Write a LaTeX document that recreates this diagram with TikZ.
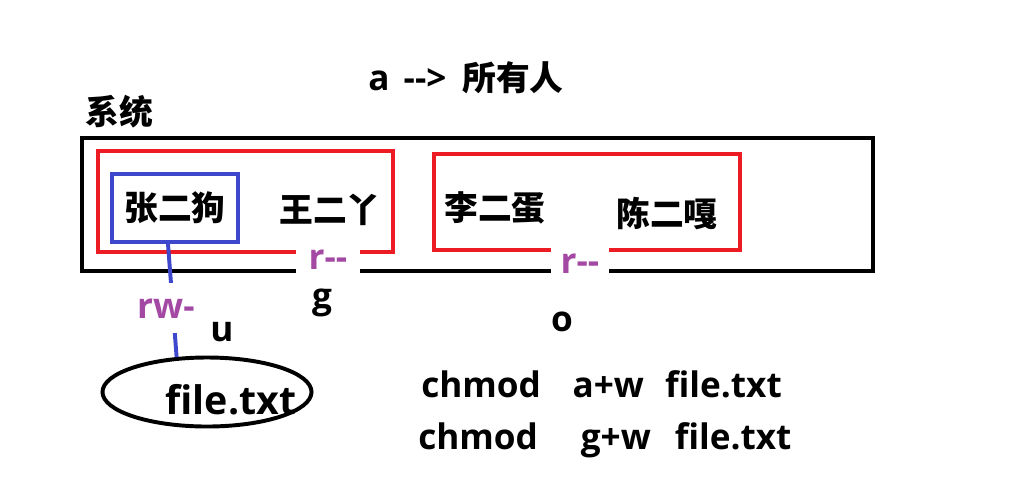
\documentclass[tikz,border=0pt]{standalone}
\usepackage{fontspec}
\setmainfont{Open Sans}
\newfontfamily\cjk{Noto Sans CJK SC}
\usepackage{xcolor}
\usetikzlibrary{shapes.geometric}
\definecolor{rosso}{RGB}{237,28,36}
\definecolor{blu}{RGB}{63,72,204}
\definecolor{viola}{RGB}{163,73,164}
\tikzset{
    every node/.style={font=\bfseries\fontsize{25}{29}\selectfont, inner sep=0pt}, % big bold text
    nome/.style={font=\cjk\bfseries\fontsize{24}{28}\selectfont}, % chinese names
    perm/.style={text=viola, fill=white}, % permission labels, they cut the lines
}
\tikzstyle{gruppo} = [draw=rosso, line width=2.8pt]

\begin{document}
\begin{tikzpicture}[x=0.025cm, y=-0.025cm]
        \useasboundingbox (0,0) rectangle (1018,496);

        % Titolo
        \node (titolo) at (466,78) {a\hspace{0.4em}-{}-{}>\hspace{0.45em}{\cjk\fontsize{24}{28}\selectfont 所有人}};
        \node[nome] (sistema) at (119,112) {系统};

        % Sistema
        \draw[line width=2.8pt] (82,138) rectangle (873,271);

        % Gruppi
        \draw[gruppo] (98,151) rectangle (393,252);
        \draw[gruppo] (434,154) rectangle (740,250);

        % Utenti
        \node[nome, draw=blu, line width=2.8pt, minimum width=3.15cm, minimum height=1.7cm] (zhang) at (175,208) {张二狗};
        \node[nome] (wang) at (330,210) {王二丫};
        \node[nome] (li) at (495,208) {李二蛋};
        \node[nome] (chen) at (667,214) {陈二嘎};

        % Permessi
        \node[perm, minimum width=1.6cm, minimum height=0.7cm] (rgruppo) at (328,260) {r-{}-};
        \node[perm, minimum width=1.45cm, minimum height=0.85cm] (raltri) at (580,264) {r-{}-};
        \node (g) at (322,303) {g};
        \node (o) at (562,322) {o};
        \node (u) at (222,332) {u};

        % File
        \node[draw, ellipse, line width=2.8pt, minimum width=5.225cm, minimum height=1.725cm] (file) at (207,392) {};
        \node[font=\bfseries\fontsize{28}{32}\selectfont] (filetxt) at (231,400) {file.txt};
        \draw[blu, line width=2.8pt] ([xshift=-0.175cm]zhang.south) -- (file.131)
            node[perm, pos=0.57, xshift=-0.175cm, minimum height=1.25cm] (rw) {rw-};

        % Comandi
        \node[anchor=west] (cmd1) at (421,384) {chmod\hspace{0.9em}a+w\hspace{0.6em}file.txt};
        \node[anchor=west] (cmd2) at (418,440) {chmod\hspace{1.22em}g+w\hspace{0.68em}file.txt};
    \end{tikzpicture}
\end{document}
